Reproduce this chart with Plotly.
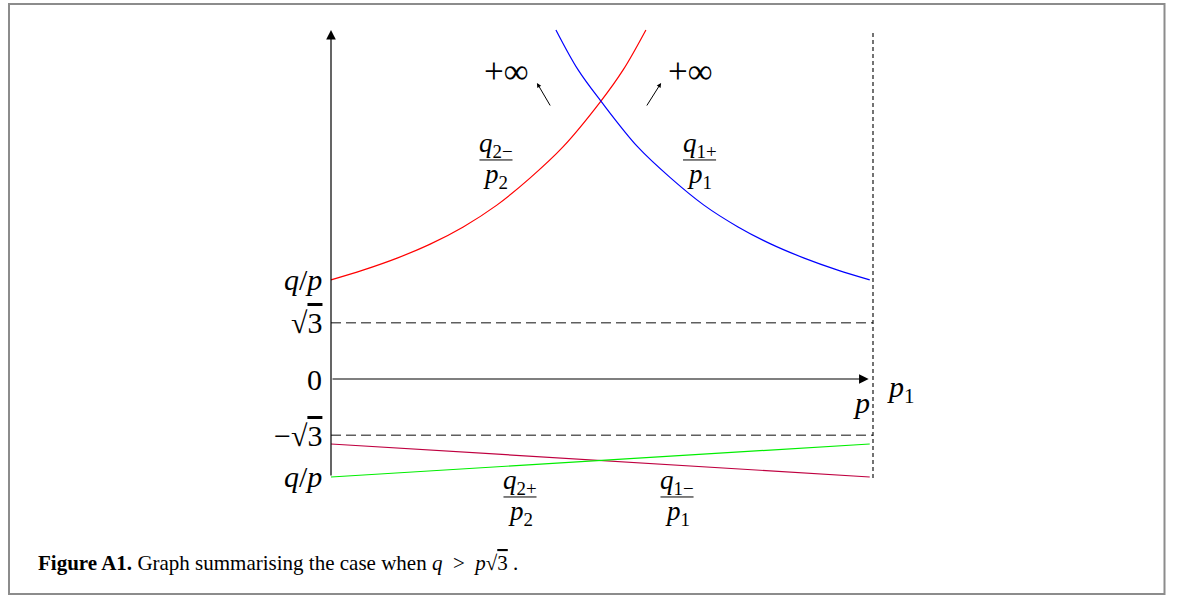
import plotly.graph_objects as go

# Horizontal position is p / p1 (0 at the origin, 1 at the dotted line p1)
# Vertical position is the ratio q/p

# q_{2-}/p_2 : rises towards +inf
p_q2m = [0.0, 0.059, 0.122, 0.183, 0.244, 0.306, 0.367, 0.428, 0.498, 0.539, 0.581]
r_q2m = [3.05, 3.35, 3.72, 4.15, 4.68, 5.35, 6.18, 7.14, 8.55, 9.51, 10.74]

# q_{1+}/p_1 : comes down from +inf
p_q1p = [0.415, 0.456, 0.498, 0.566, 0.627, 0.688, 0.751, 0.812, 0.873, 0.935, 0.994]
r_q1p = [10.74, 9.51, 8.55, 7.14, 6.18, 5.35, 4.68, 4.15, 3.72, 3.35, 3.05]

# q_{1-}/p_1 and q_{2+}/p_2 : straight segments below -sqrt(3)
p_seg = [0.0, 0.994]
r_q1m = [-2.0, -3.015]
r_q2p = [-3.015, -2.0]

SQRT3 = 1.732
P1 = 1.0
Y_TOP = 10.74
Y_BOT = -3.015

tick_vals = [3.05, SQRT3, 0.0, -SQRT3, -3.015]
tick_text = [
    "<i>q</i>/<i>p</i>",
    "√<span style='text-decoration:overline'>3</span>",
    "0",
    "−√<span style='text-decoration:overline'>3</span>",
    "<i>q</i>/<i>p</i>",
]

W, H = 1182, 597
X_RANGE = [-0.6107, 1.5701]
Y_RANGE = [-6.708, 11.662]

SERIF = "Liberation Serif"

fig = go.Figure()

# sqrt(3) guide lines
for yv in (SQRT3, -SQRT3):
    fig.add_trace(go.Scatter(x=[0, P1], y=[yv, yv], mode="lines",
                             line=dict(color="#5f5f5f", width=1.4, dash="10px,5px"),
                             hoverinfo="skip"))

# p = p1 boundary
fig.add_trace(go.Scatter(x=[P1, P1], y=[Y_BOT - 0.03, Y_TOP], mode="lines",
                         line=dict(color="black", width=1.1, dash="4px,3px"),
                         hoverinfo="skip"))

fig.add_trace(go.Scatter(x=p_q2m, y=r_q2m, mode="lines", line_shape="spline",
                         line=dict(color="#ff0000", width=1.2)))
fig.add_trace(go.Scatter(x=p_q1p, y=r_q1p, mode="lines", line_shape="spline",
                         line=dict(color="#0000ff", width=1.2)))
fig.add_trace(go.Scatter(x=p_seg, y=r_q1m, mode="lines",
                         line=dict(color="#bf0040", width=1.2)))
fig.add_trace(go.Scatter(x=p_seg, y=r_q2p, mode="lines",
                         line=dict(color="#00ee00", width=1.2)))

ann = []

# axes with arrow heads
ann.append(dict(x=0, y=Y_TOP, ax=0, ay=Y_BOT, xref="x", yref="y", axref="x", ayref="y",
                text="", showarrow=True, arrowhead=2, arrowsize=1.6, arrowwidth=1.2,
                arrowcolor="black"))
ann.append(dict(x=0.992, y=0, ax=0, ay=0, xref="x", yref="y", axref="x", ayref="y",
                text="", showarrow=True, arrowhead=2, arrowsize=1.6, arrowwidth=1.2,
                arrowcolor="black"))

# tick labels on the vertical axis
for v, t in zip(tick_vals, tick_text):
    ann.append(dict(x=0, y=v, xref="x", yref="y", text=t, showarrow=False,
                    xanchor="right", yanchor="middle", xshift=-7,
                    font=dict(family=SERIF, size=30, color="black")))

# axis names
ann.append(dict(x=0.978, y=-0.72, xref="x", yref="y", text="<i>p</i>", showarrow=False,
                font=dict(family=SERIF, size=30, color="black")))
ann.append(dict(x=1.022, y=-0.30, xref="x", yref="y", text="<i>p</i><sub>1</sub>",
                showarrow=False, xanchor="left",
                font=dict(family=SERIF, size=30, color="black")))

# +inf markers and small arrows
for cx, (tx, hx) in zip([0.3247, 0.6624], [(0.406, 0.380), (0.581, 0.609)]):
    ann.append(dict(x=cx, y=9.45, xref="x", yref="y", text="+∞", showarrow=False,
                    font=dict(family=SERIF, size=35, color="black")))
    ann.append(dict(x=hx, y=9.11, ax=tx, ay=8.37, xref="x", yref="y", axref="x", ayref="y",
                    text="", showarrow=True, arrowhead=2, arrowsize=0.9, arrowwidth=1,
                    arrowcolor="black"))

# fraction labels: (centre, bar height, numerator, denominator)
fractions = [
    (0.3044, 6.74, "<i>q</i><sub>2−</sub>", "<i>p</i><sub>2</sub>"),
    (0.6800, 6.74, "<i>q</i><sub>1+</sub>", "<i>p</i><sub>1</sub>"),
    (0.3487, -3.63, "<i>q</i><sub>2+</sub>", "<i>p</i><sub>2</sub>"),
    (0.6384, -3.63, "<i>q</i><sub>1−</sub>", "<i>p</i><sub>1</sub>"),
]
shapes = []
half_bar = 0.0305
for cx, by, num, den in fractions:
    ann.append(dict(x=cx, y=by, xref="x", yref="y", text=num, showarrow=False,
                    yanchor="bottom", yshift=-4,
                    font=dict(family=SERIF, size=27, color="black")))
    ann.append(dict(x=cx, y=by, xref="x", yref="y", text=den, showarrow=False,
                    yanchor="top", yshift=3,
                    font=dict(family=SERIF, size=27, color="black")))
    shapes.append(dict(type="line", xref="x", yref="y", x0=cx - half_bar, x1=cx + half_bar,
                       y0=by, y1=by, line=dict(color="black", width=1)))

# caption
ann.append(dict(x=36 / W, y=1 - 563 / H, xref="paper", yref="paper",
                xanchor="left", yanchor="middle", showarrow=False,
                text="<b>Figure A1.</b> Graph summarising the case when <i>q</i>  >  "
                     "<i>p</i>√<span style='text-decoration:overline'>3</span> .",
                font=dict(family=SERIF, size=21, color="black")))

# outer frame
shapes.append(dict(type="rect", xref="paper", yref="paper",
                   x0=9 / W, x1=1164.5 / W, y0=1 - 594 / H, y1=1 - 4 / H,
                   line=dict(color="#8c8c8c", width=2)))

fig.update_layout(
    width=W, height=H, autosize=False,
    margin=dict(l=0, r=0, t=0, b=0),
    paper_bgcolor="white", plot_bgcolor="white",
    showlegend=False,
    xaxis=dict(range=X_RANGE, visible=False, fixedrange=True),
    yaxis=dict(range=Y_RANGE, visible=False, fixedrange=True),
    annotations=ann, shapes=shapes,
)

fig.write_html("out.html")
